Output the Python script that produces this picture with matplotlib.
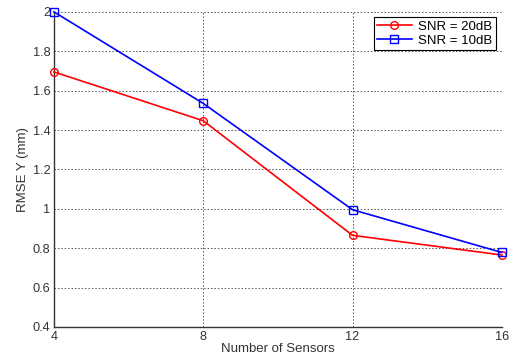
import matplotlib
matplotlib.use("Agg")
import matplotlib.pyplot as plt

sensors = [4, 8, 12, 16]
snr20 = [1.695, 1.447, 0.865, 0.765]
snr10 = [2.0, 1.535, 0.995, 0.778]
yticks = [0.4, 0.6, 0.8, 1, 1.2, 1.4, 1.6, 1.8, 2]
ytick_labels = ["0.4", "0.6", "0.8", "1", "1.2", "1.4", "1.6", "1.8", "2"]

plt.rcParams['font.family'] = ['Liberation Sans', 'DejaVu Sans']
fig = plt.figure(figsize=(5.09, 3.6), dpi=100)
ax = fig.add_axes([0.106, 0.092, 0.880, 0.875])

ax.plot(sensors, snr20, color='red', marker='o', markersize=5.5, markerfacecolor='none',
        markeredgewidth=1.0, linewidth=1.2, label='SNR = 20dB', clip_on=False, zorder=3)
ax.plot(sensors, snr10, color='blue', marker='s', markersize=5.5, markerfacecolor='none',
        markeredgewidth=1.0, linewidth=1.2, label='SNR = 10dB', clip_on=False, zorder=3)

ax.set_xlim(4, 16)
ax.set_ylim(0.4, 2)
ax.set_xticks(sensors)
ax.set_yticks(yticks)
ax.set_yticklabels(ytick_labels)
ax.tick_params(axis='both', labelsize=9.2, colors='#333333', length=0)
ax.tick_params(axis='y', pad=2.5)
ax.tick_params(axis='x', pad=3)
ax.grid(True, linestyle=(0, (1.5, 2)), color='#555555', linewidth=0.7)
for s in ['top', 'right']:
    ax.spines[s].set_visible(False)
for s in ['left', 'bottom']:
    ax.spines[s].set_color('#333333')
    ax.spines[s].set_linewidth(1.0)

ax.set_xlabel('Number of Sensors', fontsize=9.5, color='#333333', labelpad=0)
ax.set_ylabel('RMSE Y (mm)', fontsize=9.5, color='#333333', labelpad=3)

leg = ax.legend(loc='upper right', fontsize=9.5, fancybox=False, framealpha=1,
                edgecolor='black', borderpad=0.25, handlelength=2.6, handletextpad=0.5,
                labelspacing=0.1, borderaxespad=0.3, bbox_to_anchor=(0.995, 0.995))
leg.get_frame().set_linewidth(0.8)

fig.savefig('out.png', dpi=100)
